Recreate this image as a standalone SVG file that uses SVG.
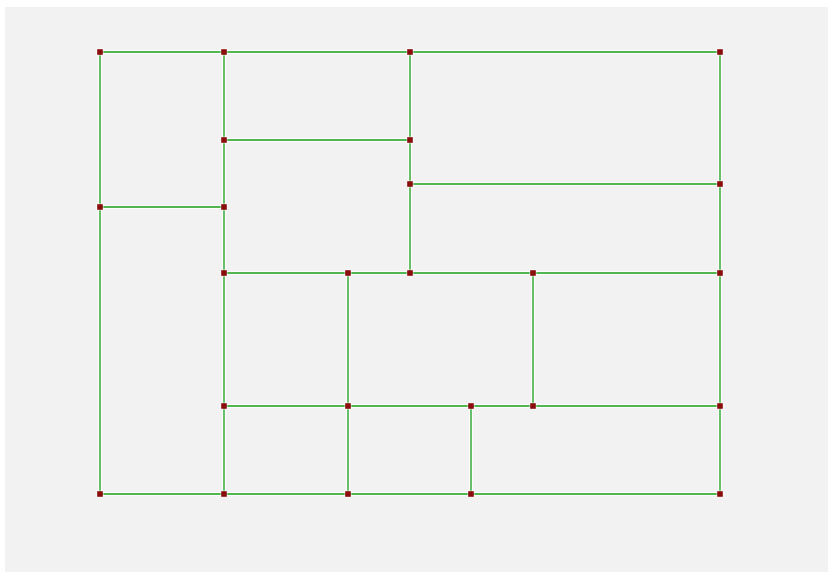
<svg xmlns="http://www.w3.org/2000/svg" width="828" height="572" viewBox="0 0 828 572">
<style>
.halo{stroke:#ffffff;stroke-width:4;stroke-opacity:0.7;fill:none}
.edge{stroke:#1a9e1a;stroke-width:1.3;fill:none}
.node rect{fill:#8a0c0c;stroke:#ffffff;stroke-opacity:0.6;stroke-width:1.5;paint-order:stroke}
</style>
<rect x="0" y="0" width="828" height="572" fill="#ffffff"/>
<rect x="5" y="7" width="823" height="565" fill="#f2f2f2"/>
<g id="connectors">
<g class="halo">
<path d="M100 52H720M100 52V494M224 52V494M224 140H410M410 52V273M410 184H720M100 207H224M720 52V494M224 273H720M348 273V494M533 273V406M224 406H720M471 406V494M100 494H720"/>
</g>
<g class="edge">
<path d="M100 52H720M100 52V494M224 52V494M224 140H410M410 52V273M410 184H720M100 207H224M720 52V494M224 273H720M348 273V494M533 273V406M224 406H720M471 406V494M100 494H720"/>
</g>
</g>
<g class="node">
<g id="n1"><rect x="97.2" y="49.2" width="5.6" height="5.6"/></g>
<g id="n2"><rect x="221.2" y="49.2" width="5.6" height="5.6"/></g>
<g id="n3"><rect x="407.2" y="49.2" width="5.6" height="5.6"/></g>
<g id="n4"><rect x="717.2" y="49.2" width="5.6" height="5.6"/></g>
<g id="n5"><rect x="221.2" y="137.2" width="5.6" height="5.6"/></g>
<g id="n6"><rect x="407.2" y="137.2" width="5.6" height="5.6"/></g>
<g id="n7"><rect x="407.2" y="181.2" width="5.6" height="5.6"/></g>
<g id="n8"><rect x="717.2" y="181.2" width="5.6" height="5.6"/></g>
<g id="n9"><rect x="97.2" y="204.2" width="5.6" height="5.6"/></g>
<g id="n10"><rect x="221.2" y="204.2" width="5.6" height="5.6"/></g>
<g id="n11"><rect x="221.2" y="270.2" width="5.6" height="5.6"/></g>
<g id="n12"><rect x="345.2" y="270.2" width="5.6" height="5.6"/></g>
<g id="n13"><rect x="407.2" y="270.2" width="5.6" height="5.6"/></g>
<g id="n14"><rect x="530.2" y="270.2" width="5.6" height="5.6"/></g>
<g id="n15"><rect x="717.2" y="270.2" width="5.6" height="5.6"/></g>
<g id="n16"><rect x="221.2" y="403.2" width="5.6" height="5.6"/></g>
<g id="n17"><rect x="345.2" y="403.2" width="5.6" height="5.6"/></g>
<g id="n18"><rect x="468.2" y="403.2" width="5.6" height="5.6"/></g>
<g id="n19"><rect x="530.2" y="403.2" width="5.6" height="5.6"/></g>
<g id="n20"><rect x="717.2" y="403.2" width="5.6" height="5.6"/></g>
<g id="n21"><rect x="97.2" y="491.2" width="5.6" height="5.6"/></g>
<g id="n22"><rect x="221.2" y="491.2" width="5.6" height="5.6"/></g>
<g id="n23"><rect x="345.2" y="491.2" width="5.6" height="5.6"/></g>
<g id="n24"><rect x="468.2" y="491.2" width="5.6" height="5.6"/></g>
<g id="n25"><rect x="717.2" y="491.2" width="5.6" height="5.6"/></g>
</g>
</svg>
